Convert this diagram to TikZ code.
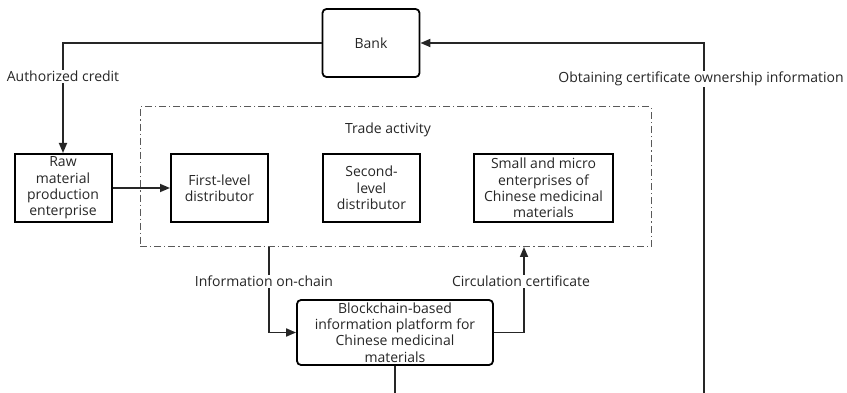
\documentclass[tikz,border=0pt]{standalone}
\usepackage{fontspec}
\setmainfont{Open Sans}
\usetikzlibrary{arrows.meta}

\tikzset{
  txt/.style={font=\fontsize{14}{16.3}\selectfont, text=black!85},
  flowbox/.style={draw, line width=2pt, align=center, txt, inner sep=0pt,
    minimum width=97pt, minimum height=68pt},
  roundbox/.style={flowbox, rounded corners=4pt, line width=1.8pt},
  tradebox/.style={draw, dash pattern=on 7pt off 3pt on 1.2pt off 3pt, line width=1pt, color=black!65},
  link/.style={line width=1.7pt, draw=black!85, -{Triangle[length=10pt,width=8pt]}},
  lbl/.style={fill=white, txt, inner sep=1pt}
}

\begin{document}
\begin{tikzpicture}[x=1pt,y=-1pt]
\useasboundingbox (0,0) rectangle (847,393);
\clip (0,0) rectangle (847,393);

% participants
\node[roundbox] (bank) at (371,43) {Bank};
\node[flowbox] (raw) at (63,188) {Raw\\material\\production\\enterprise};
\node[tradebox, minimum width=511pt, minimum height=140pt] (trade) at (395.5,177) {};
\node[txt] (tradetitle) at (388,130) {Trade activity};
\node[flowbox] (first) at (219.5,188) {First-level\\distributor};
\node[flowbox] (second) at (371.5,188) {Second-\\level\\distributor};
\node[flowbox, minimum width=139pt] (small) at (543.5,188) {Small and micro\\enterprises of\\Chinese medicinal\\materials};
\node[roundbox, minimum width=196pt, minimum height=65pt] (platform) at (395,332.5)
  {Blockchain-based\\information platform for\\Chinese medicinal\\materials};

\coordinate (infoout) at (first.east |- trade.south);
\coordinate (certin) at (524,247);
\coordinate (loop) at (704,402);

% flows
\draw[link] (bank.west) -| node[lbl, pos=0.653] {Authorized credit} (raw.north);
\draw[link] (raw.east) -- (first.west);
\draw[link] (infoout) |- node[lbl, pos=0.2, xshift=-5pt] {Information on-chain} (platform.west);
\draw[link] (platform.east) -| node[lbl, pos=0.8, xshift=-3pt] {Circulation certificate} (certin);
\draw[link] (platform.south) |- (loop) |- node[lbl, pos=0.45, xshift=-3pt] {Obtaining certificate ownership information} (bank.east);

\end{tikzpicture}
\end{document}
